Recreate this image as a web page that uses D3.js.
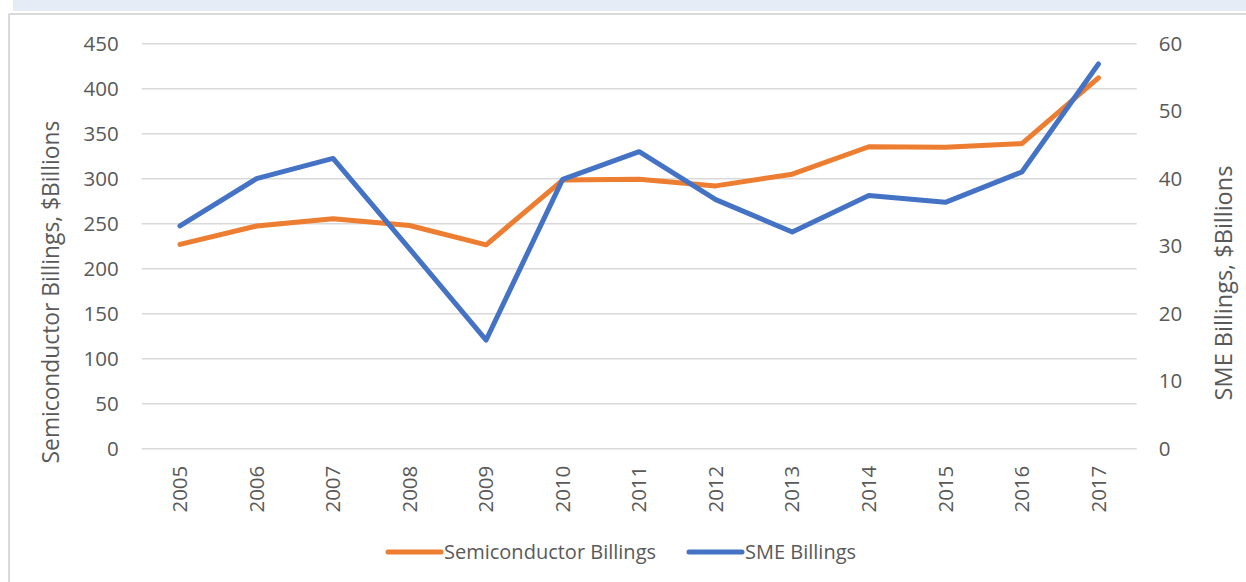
<!DOCTYPE html>
<html>
<head>
<meta charset="utf-8">
<script src="https://cdn.jsdelivr.net/npm/d3@7.8.5/dist/d3.min.js"></script>
<style>
  body { margin: 0; background: #fff; }
  svg { display: block; font-family: "Open Sans", "Noto Sans", sans-serif; }
</style>
</head>
<body>
<div id="chart"></div>
<script>
const years = ["2005", "2006", "2007", "2008", "2009", "2010", "2011", "2012", "2013", "2014", "2015", "2016", "2017"];
const semiconductorBillings = [227, 247.5, 255.5, 248, 226.5, 298.5, 299.5, 292, 305, 335.5, 335, 339, 412];
const smeBillings = [33, 40, 43, 29.6, 16.1, 39.9, 44, 36.9, 32.1, 37.5, 36.5, 41, 57];
const leftTicks = [0, 50, 100, 150, 200, 250, 300, 350, 400, 450];
const rightTicks = [0, 10, 20, 30, 40, 50, 60];
const seriesNames = ["Semiconductor Billings", "SME Billings"];
const seriesColors = ["#ED7D31", "#4472C4"];

const width = 1246, height = 582;
const margin = { top: 43.7, right: 109.3, bottom: 133.3, left: 141.7 };

const svg = d3.select("#chart").append("svg")
  .attr("width", width)
  .attr("height", height);

// frame: top band + borders
svg.append("rect").attr("x", 13).attr("y", 0).attr("width", width - 13).attr("height", 11)
  .attr("fill", "#E6ECF6");
svg.append("line").attr("x1", 9).attr("x2", width).attr("y1", 14).attr("y2", 14)
  .attr("stroke", "#D9D9D9").attr("stroke-width", 2);
svg.append("line").attr("x1", 9).attr("x2", 9).attr("y1", 14).attr("y2", height)
  .attr("stroke", "#D9D9D9").attr("stroke-width", 2);

const x = d3.scaleBand()
  .domain(years)
  .range([margin.left, width - margin.right]);

const yLeft = d3.scaleLinear()
  .domain([0, 450])
  .range([height - margin.bottom, margin.top]);

const yRight = d3.scaleLinear()
  .domain([0, 60])
  .range([height - margin.bottom, margin.top]);

// gridlines
svg.append("g")
  .selectAll("line")
  .data(leftTicks)
  .join("line")
  .attr("x1", margin.left)
  .attr("x2", width - margin.right)
  .attr("y1", (d) => yLeft(d))
  .attr("y2", (d) => yLeft(d))
  .attr("stroke", "#D9D9D9")
  .attr("stroke-width", 1.5);

// left axis
svg.append("g")
  .attr("transform", `translate(${margin.left - 23}, 0)`)
  .call(d3.axisLeft(yLeft).tickValues(leftTicks).tickSize(0).tickPadding(0));

// right axis
svg.append("g")
  .attr("transform", `translate(${width - margin.right + 22}, 0)`)
  .call(d3.axisRight(yRight).tickValues(rightTicks).tickSize(0).tickPadding(0));

// x axis
const xAxis = svg.append("g")
  .attr("transform", `translate(0, ${height - margin.bottom})`)
  .call(d3.axisBottom(x).tickSize(0).tickPadding(0));

xAxis.selectAll(".tick text")
  .attr("transform", "rotate(-90)")
  .attr("x", -17)
  .attr("y", 0)
  .attr("dy", "0.35em")
  .attr("text-anchor", "end");

svg.selectAll(".domain").remove();
svg.selectAll(".tick text")
  .style("font-size", "20.5px")
  .style("fill", "#595959")
  .style("font-family", "'Open Sans', 'Noto Sans', sans-serif");

// axis titles
svg.append("text")
  .attr("transform", "translate(59, 292) rotate(-90)")
  .attr("text-anchor", "middle")
  .style("font-size", "22.8px")
  .style("fill", "#595959")
  .text("Semiconductor Billings, $Billions");

svg.append("text")
  .attr("transform", "translate(1232, 283) rotate(-90)")
  .attr("text-anchor", "middle")
  .style("font-size", "23.5px")
  .style("fill", "#595959")
  .text("SME Billings, $Billions");

// lines
const cx = (d, i) => x(years[i]) + x.bandwidth() / 2;

const lineLeft = d3.line().x(cx).y((d) => yLeft(d));
const lineRight = d3.line().x(cx).y((d) => yRight(d));

svg.append("path")
  .datum(semiconductorBillings)
  .attr("d", lineLeft)
  .attr("fill", "none")
  .attr("stroke", seriesColors[0])
  .attr("stroke-width", 5)
  .attr("stroke-linecap", "round")
  .attr("stroke-linejoin", "round");

svg.append("path")
  .datum(smeBillings)
  .attr("d", lineRight)
  .attr("fill", "none")
  .attr("stroke", seriesColors[1])
  .attr("stroke-width", 5)
  .attr("stroke-linecap", "round")
  .attr("stroke-linejoin", "round");

// legend
const legendY = 552;
const legendX = [388, 689];
seriesNames.forEach((name, i) => {
  const g = svg.append("g").attr("transform", `translate(${legendX[i]}, ${legendY})`);
  g.append("line")
    .attr("x1", 0).attr("x2", 53)
    .attr("y1", 0).attr("y2", 0)
    .attr("stroke", seriesColors[i])
    .attr("stroke-width", 5)
    .attr("stroke-linecap", "round");
  g.append("text")
    .attr("x", 56)
    .attr("y", 0)
    .attr("dy", "0.35em")
    .style("font-size", "20px")
    .style("fill", "#595959")
    .text(name);
});
</script>
</body>
</html>
